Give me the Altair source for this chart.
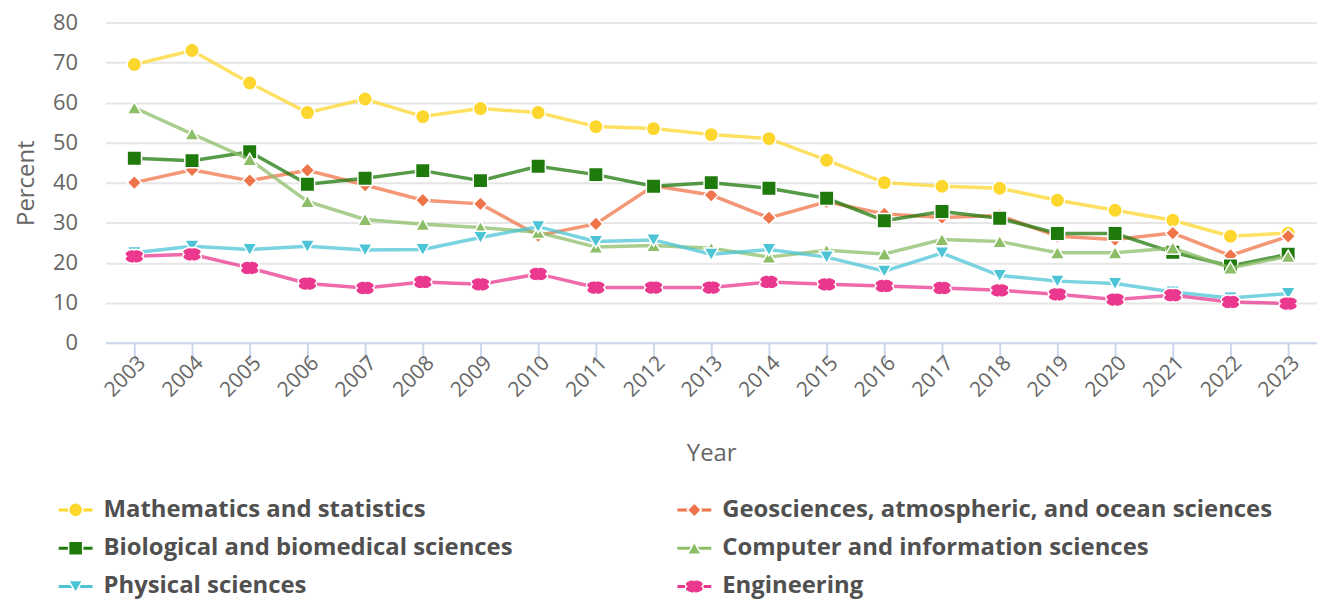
import altair as alt
import pandas as pd

years = list(range(2003, 2024))

series_names = [
    "Mathematics and statistics",
    "Geosciences, atmospheric, and ocean sciences",
    "Biological and biomedical sciences",
    "Computer and information sciences",
    "Physical sciences",
    "Engineering",
]

math_stats = [69.5, 73.0, 64.9, 57.5, 60.9, 56.5, 58.5, 57.5, 54.0, 53.5, 52.0,
              51.0, 45.6, 40.0, 39.1, 38.6, 35.6, 33.1, 30.6, 26.6, 27.4]
geosciences = [40.0, 43.2, 40.5, 43.1, 39.4, 35.6, 34.7, 26.8, 29.7, 39.2, 36.9,
               31.2, 35.2, 32.2, 31.3, 31.8, 26.6, 25.8, 27.4, 21.8, 26.6]
biological = [46.1, 45.5, 47.7, 39.6, 41.1, 43.0, 40.5, 44.1, 42.0, 39.1, 40.0,
              38.6, 36.1, 30.5, 32.8, 31.1, 27.3, 27.3, 22.6, 19.2, 22.1]
computer = [58.7, 52.2, 45.8, 35.3, 30.8, 29.6, 28.8, 27.6, 23.9, 24.3, 23.6,
            21.4, 23.1, 22.2, 25.8, 25.3, 22.5, 22.5, 23.7, 18.7, 21.6]
physical = [22.5, 24.1, 23.3, 24.1, 23.2, 23.3, 26.3, 29.0, 25.3, 25.7, 22.1,
            23.3, 21.4, 17.9, 22.4, 16.8, 15.4, 14.8, 12.7, 11.2, 12.3]
engineering = [21.6, 22.1, 18.7, 14.8, 13.7, 15.2, 14.6, 17.2, 13.8, 13.8, 13.8,
               15.2, 14.6, 14.2, 13.7, 13.1, 12.1, 10.8, 11.9, 10.2, 9.8]

series_values = [math_stats, geosciences, biological, computer, physical, engineering]

colors = ["#FDD62E", "#F0744A", "#1F7A0C", "#8CBE68", "#4DC4D6", "#E9388D"]

eng_path = ("M -1.095,0 A 1.3,0.65 0 0 1 -0.15,-0.99 L 0,-0.86 L 0.15,-0.99 "
            "A 1.3,0.65 0 0 1 1.095,0 A 1.3,0.65 0 0 1 0.15,0.99 L 0,0.86 "
            "L -0.15,0.99 A 1.3,0.65 0 0 1 -1.095,0 Z")
shapes = ["circle", "diamond", "square", "triangle-up", "triangle-down", eng_path]

# legend layout (column, row) per series
legend_col = [0, 1, 0, 1, 0, 1]
legend_row = [0, 0, 1, 1, 2, 2]

FONT = "Open Sans"

rows = []
for name, vals in zip(series_names, series_values):
    for y, v in zip(years, vals):
        rows.append({"series": name, "year": str(y), "value": v})
df = pd.DataFrame(rows)

leg_df = pd.DataFrame({"series": series_names, "col": legend_col, "row": legend_row})

color_scale = alt.Scale(domain=series_names, range=colors)
shape_scale = alt.Scale(domain=series_names, range=shapes)

X = alt.X(
    "year:O",
    title="Year",
    axis=alt.Axis(
        labelAngle=-45,
        labelFontSize=21,
        labelColor="#666666",
        labelFont=FONT,
        labelPadding=-9,
        domainColor="#ccd6eb",
        domainWidth=2,
        tickColor="#ccd6eb",
        tickWidth=2,
        tickSize=18,
        titleFontSize=24,
        titleFont=FONT,
        titleFontWeight="normal",
        titleColor="#666666",
        titlePadding=42,
        grid=False,
    ),
)
Y = alt.Y(
    "value:Q",
    title="Percent",
    scale=alt.Scale(domain=[0, 80], nice=False),
    axis=alt.Axis(
        values=[0, 10, 20, 30, 40, 50, 60, 70, 80],
        labelFontSize=22,
        labelColor="#666666",
        labelFont=FONT,
        labelPadding=28,
        ticks=False,
        domain=False,
        gridColor="#e6e6e6",
        gridWidth=2,
        titleFontSize=24,
        titleFont=FONT,
        titleFontWeight="normal",
        titleColor="#666666",
        titlePadding=14,
    ),
)
C = alt.Color("series:N", scale=color_scale, legend=None)
S = alt.Shape("series:N", scale=shape_scale, legend=None)

layers = []
for name in series_names:
    base = alt.Chart(df).transform_filter(alt.datum.series == name)
    line = base.mark_line(strokeWidth=3.5, opacity=0.75).encode(x=X, y=Y, color=C)
    pts = base.mark_point(filled=True, opacity=1, size=210, stroke="white",
                          strokeWidth=1.5).encode(x=X, y=Y, fill=C, shape=S)
    layers += [line, pts]

main = alt.layer(*layers).properties(width=1218, height=322)

LX = alt.X("col:Q", axis=None, scale=alt.Scale(domain=[0, 1], range=[-30, 592]))
LY = alt.Y("row:Q", axis=None, scale=alt.Scale(domain=[0, 2], range=[36, 113]))

leg_line = alt.Chart(leg_df).mark_tick(orient="horizontal", size=34, thickness=3,
                                       opacity=1).encode(x=LX, y=LY, color=C)
leg_pts = alt.Chart(leg_df).mark_point(filled=True, opacity=1, size=200, stroke="white",
                                       strokeWidth=1.5).encode(x=LX, y=LY, fill=C, shape=S)
leg_txt = alt.Chart(leg_df).mark_text(align="left", baseline="middle", dx=28, font=FONT,
                                      fontSize=24, fontWeight="bold",
                                      color="#505050").encode(x=LX, y=LY, text="series:N")
legend = alt.layer(leg_line, leg_pts, leg_txt).properties(width=1218, height=120)

chart = alt.vconcat(main, legend, spacing=8).properties(
    padding={"left": 6, "top": 2, "right": 0, "bottom": 0}
).configure(font=FONT).configure_view(stroke=None, strokeWidth=0)

chart.save("out.html", embed_options={"renderer": "svg", "actions": False})
